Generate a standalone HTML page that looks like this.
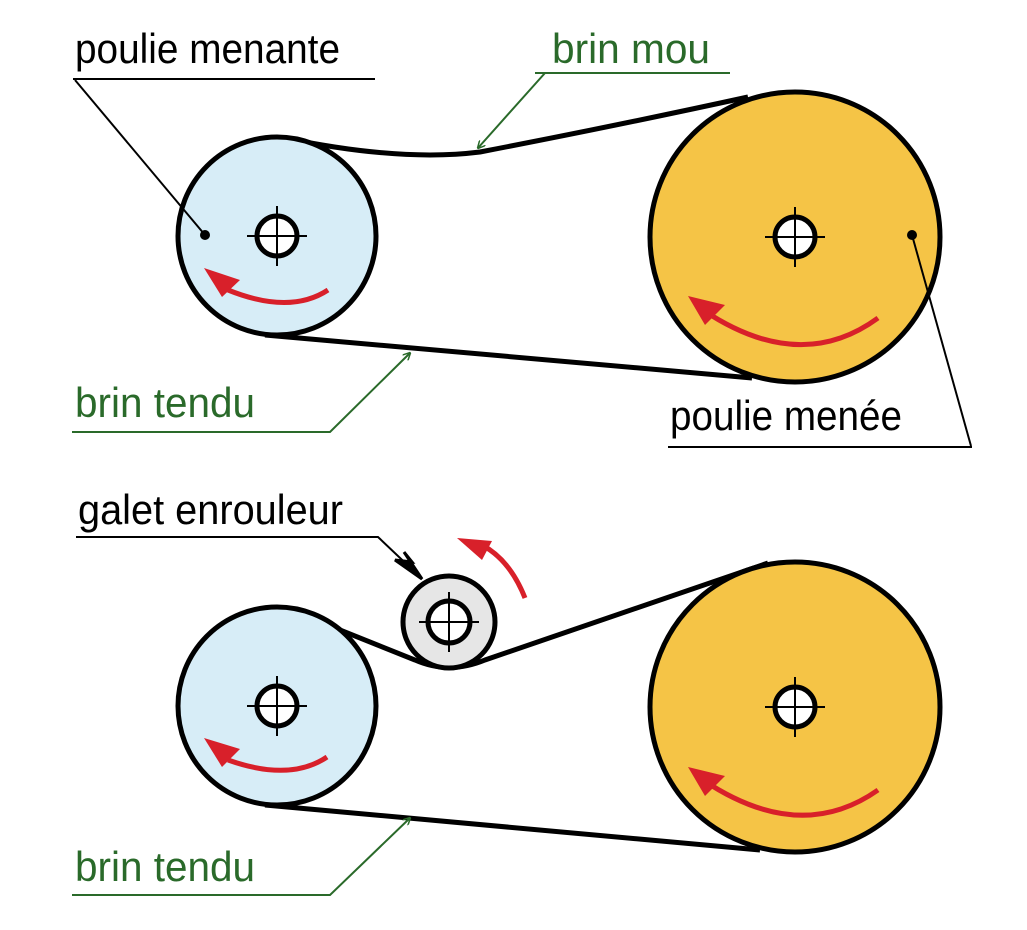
<!DOCTYPE html>
<html><head><meta charset="utf-8"><style>
html,body{margin:0;padding:0;background:#fff}
svg{display:block}
text{font-family:"Liberation Sans",sans-serif;font-size:42px}
</style></head><body>
<svg width="1027" height="930" viewBox="0 0 1027 930" xmlns="http://www.w3.org/2000/svg">
<defs>
<marker id="ga" markerWidth="8" markerHeight="8" refX="7" refY="4" orient="auto" markerUnits="userSpaceOnUse" viewBox="0 0 8 8"><path d="M0,0 L8,4 L0,8" fill="none" stroke="#2a6a2a" stroke-width="1.5"/></marker>
</defs>
<g stroke="#000" stroke-width="5">
<path d="M285,138 Q400,162 480,152 Q620,125 748,97" fill="none"/>
<path d="M265,335 L752,378" fill="none"/>
<circle cx="277" cy="236" r="99" fill="#d7edf7"/>
<circle cx="795" cy="237" r="145" fill="#f5c446"/>
<path d="M285,608 L415,660 Q449,675 485,660 L768,563" fill="none"/>
<path d="M265,805 L760,850" fill="none"/>
<circle cx="277" cy="706" r="99" fill="#d7edf7"/>
<circle cx="795" cy="707" r="145" fill="#f5c446"/>
<circle cx="449" cy="622" r="46" fill="#e6e6e6"/>
</g>
<g stroke="#000">
<g fill="#fff" stroke-width="5">
<circle cx="277" cy="236" r="20"/><circle cx="795" cy="237" r="20"/>
<circle cx="277" cy="706" r="20"/><circle cx="795" cy="707" r="20"/>
<circle cx="449" cy="622" r="21"/>
</g>
<g stroke-width="2">
<path d="M247,236h60M277,206v60M765,237h60M795,207v60M247,706h60M277,676v60M765,707h60M795,677v60M419,622h60M449,592v60"/>
</g>
</g>
<g stroke="#d8202a" stroke-width="5" fill="none">
<path d="M328,290 Q290,315 228,290"/>
<path d="M878,318 Q800,375 703,310"/>
<path d="M327,757 Q290,782 228,760"/>
<path d="M878,790 Q800,845 703,780"/>
<path d="M525,598 Q510,560 482,545"/>
</g>
<g fill="#d8202a">
<polygon points="204,268 240,280 222,297"/>
<polygon points="688,296 725,305 705,325"/>
<polygon points="204,738 240,749 222,767"/>
<polygon points="688,767 725,776 705,796"/>
<polygon points="457,538 492,541 482,560"/>
</g>
<g stroke="#000" stroke-width="2" fill="none">
<path d="M73,79H375"/>
<path d="M75,80L205,235"/>
<path d="M668,447H972"/>
<path d="M971,446L912,235"/>
<path d="M76,537H378L418,575"/>
</g>
<circle cx="205" cy="235" r="5"/>
<circle cx="912" cy="235" r="5"/>
<path d="M422,579 L404,552 L412,562 L395,560 Z" fill="#000" stroke="#000" stroke-width="3"/>
<g stroke="#2a6a2a" stroke-width="2" fill="none">
<path d="M535,73H730M545,73L478,148" marker-end="url(#ga)"/>
<path d="M72,432H330L410,353" marker-end="url(#ga)"/>
<path d="M72,895H330L410,818" marker-end="url(#ga)"/>
</g>
<text x="75" y="63" fill="#000" textLength="265" lengthAdjust="spacingAndGlyphs">poulie menante</text>
<text x="670" y="430" fill="#000" textLength="232" lengthAdjust="spacingAndGlyphs">poulie menée</text>
<text x="78" y="524" fill="#000" textLength="265" lengthAdjust="spacingAndGlyphs">galet enrouleur</text>
<text x="552" y="63" fill="#2a6a2a" textLength="158" lengthAdjust="spacingAndGlyphs">brin mou</text>
<text x="75" y="417" fill="#2a6a2a" textLength="180" lengthAdjust="spacingAndGlyphs">brin tendu</text>
<text x="75" y="881" fill="#2a6a2a" textLength="180" lengthAdjust="spacingAndGlyphs">brin tendu</text>
</svg>
</body></html>
